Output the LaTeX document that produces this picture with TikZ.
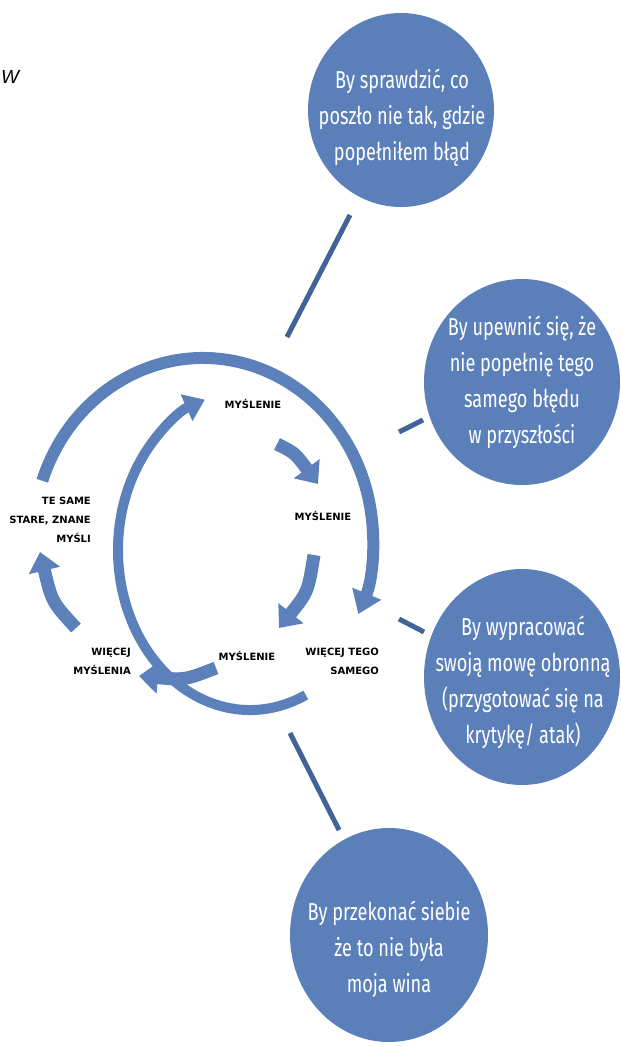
\documentclass[tikz,border=0pt]{standalone}
\usepackage{fontspec}
\setmainfont{Fira Sans}
\newfontfamily\handfont[FakeStretch=0.74]{Fira Sans}
\newfontfamily\labfont{DejaVu Sans}
\newfontfamily\wfont{Liberation Sans}
\usetikzlibrary{arrows.meta,shapes.geometric}
\definecolor{cblue}{HTML}{5A7FB9}
\definecolor{ablue}{HTML}{5B80BA}
\definecolor{lblue}{HTML}{42639A}
\begin{document}
\begin{tikzpicture}[x=1pt,y=1pt,yscale=-1,
  bubble/.style={ellipse, fill=cblue, inner sep=0pt, draw=none},
  btext/.style={text=white, font=\handfont\fontsize{24.5}{36}\selectfont, align=center},
  lab/.style={font=\labfont\bfseries\fontsize{10}{19}\selectfont, text=black, inner sep=0pt},
  bigloop/.style={draw=ablue, line width=12pt, -{Triangle[width=30pt,length=22pt]}},
  midloop/.style={draw=ablue, line width=10pt, -{Triangle[width=28pt,length=20pt]}},
  smallarr/.style={draw=ablue, line width=13pt, -{Triangle[width=31pt,length=19pt]}},
  conn/.style={draw=lblue, line width=5pt}
]
\useasboundingbox[fill=white] (0,0) rectangle (621,1047);

% letter at the left edge
\node[font=\wfont\itshape\fontsize{19}{19}\selectfont, anchor=base west, inner sep=0pt] (w) at (1,83) {W};

% bubbles
\node[bubble, minimum width=186pt, minimum height=194pt] (c1) at (401,110) {};
\node[bubble, minimum width=196pt, minimum height=206pt] (c2) at (522,382) {};
\node[bubble, minimum width=196pt, minimum height=216pt] (c3) at (522,677) {};
\node[bubble, minimum width=198pt, minimum height=214pt] (c4) at (389,935) {};

\node[btext] (t1) at (402,118) {By sprawdzić, co\\poszło nie tak, gdzie\\popełniłem błąd};
\node[btext] (t2) at (522,382) {By upewnić się, że\\nie popełnię tego\\samego błędu\\w przyszłości};
\node[btext] (t3) at (523,682) {By wypracować\\swoją mowę obronną\\(przygotować się na\\krytykę/ atak)};
\node[btext] (t4) at (389,949) {By przekonać siebie\\że to nie była\\moja wina};

% connectors
\coordinate (l1a) at (350,215); \coordinate (l1b) at (287,337);
\coordinate (l2a) at (423,420); \coordinate (l2b) at (399,432);
\coordinate (l3a) at (399,619); \coordinate (l3b) at (424,632);
\coordinate (l4a) at (290,733); \coordinate (l4b) at (339,830);
\draw[conn] (l1a) -- (l1b);
\draw[conn] (l2a) -- (l2b);
\draw[conn] (l3a) -- (l3b);
\draw[conn] (l4a) -- (l4b);

% big loops
\draw[bigloop] (203,540) ++(-161:170 and 182) arc[start angle=-161, end angle=24, x radius=170, y radius=182];
\draw[midloop] (250,550) ++(65:132 and 160) arc[start angle=65, end angle=250, x radius=132, y radius=160];

% small arrows
\coordinate (a1s) at (277,444); \coordinate (a1e) at (318,484);
\coordinate (a2s) at (314,555); \coordinate (a2e) at (279,628);
\coordinate (a3s) at (216,668); \coordinate (a3e) at (139,676);
\coordinate (a4s) at (76,628);  \coordinate (a4e) at (40,552);
\draw[smallarr] (a1s) .. controls (295,453) .. (a1e);
\draw[smallarr] (a2s) .. controls (308,592) .. (a2e);
\draw[smallarr] (a3s) .. controls (185,680) .. (a3e);
\draw[smallarr] (a4s) .. controls (52,602) .. (a4e);

% labels
\node[lab, anchor=center] (m1) at (253,404) {MYŚLENIE};
\node[lab, anchor=center] (m2) at (323,516) {MYŚLENIE};
\node[lab, anchor=center] (m3) at (247,656) {MYŚLENIE};
\node[lab, anchor=east, align=right] (old) at (91,520) {TE SAME\\STARE, ZNANE\\MYŚLI};
\node[lab, anchor=east, align=right] (more) at (131,661) {WIĘCEJ\\MYŚLENIA};
\node[lab, anchor=east, align=right] (same) at (379,661) {WIĘCEJ TEGO\\SAMEGO};
\end{tikzpicture}
\end{document}
